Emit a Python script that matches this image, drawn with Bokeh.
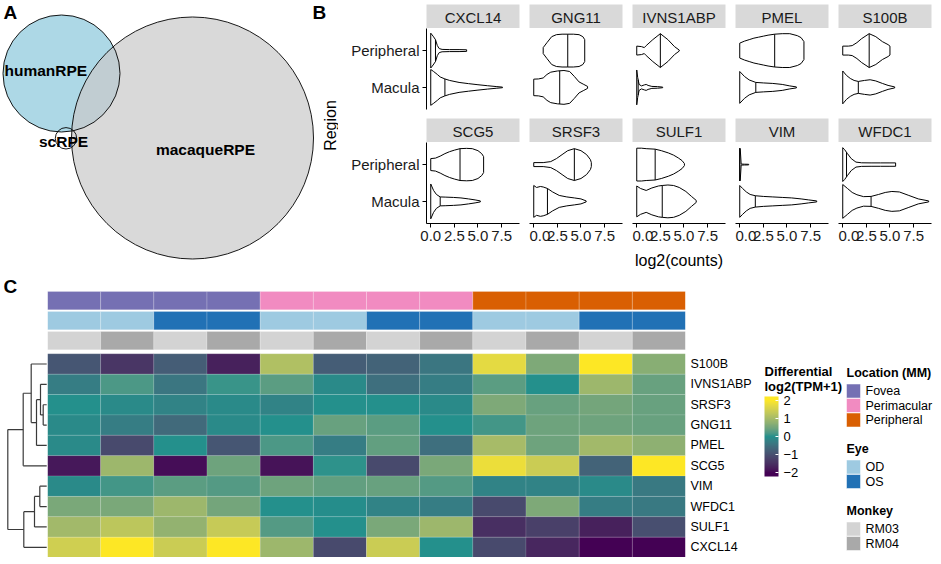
import numpy as np
from math import pi
from bokeh.plotting import figure
from bokeh.layouts import row, column
from bokeh.models import (Range1d, FixedTicker, NumeralTickFormatter, ColumnDataSource,
                          LinearColorMapper, CategoricalColorMapper, ColorBar)
from bokeh.core.properties import value
from bokeh.embed import file_html
from bokeh.resources import INLINE

FONT = "Liberation Sans"

# ======================= DATA =======================
# ---- Panel A: Venn diagram sets ----
venn_sets = ["humanRPE", "macaqueRPE", "scRPE"]

# ---- Panel B: violin outlines (x = log2(counts), w = half-width read in px, med = median) ----
facet_genes = ["CXCL14", "GNG11", "IVNS1ABP", "PMEL", "S100B",
               "SCG5", "SRSF3", "SULF1", "VIM", "WFDC1"]
regions = ["Macula", "Peripheral"]
x_ticks = [0.0, 2.5, 5.0, 7.5]

violin_x = {
    "CXCL14":   {"Peripheral": [0, 0.25, 0.5, 0.7, 0.9, 1.2, 2.0, 3.0, 3.8],
                 "Macula": [0, 0.3, 0.7, 1.0, 1.5, 2.0, 3.0, 4.0, 5.0, 6.0, 7.0, 7.6]},
    "GNG11":    {"Peripheral": [1.0, 1.4, 1.9, 2.4, 3.0, 3.6, 4.2, 4.8, 5.2, 5.4],
                 "Macula": [0, 0.5, 1.0, 1.4, 1.8, 2.5, 3.2, 3.8, 4.3, 4.8, 5.3, 5.7]},
    "IVNS1ABP": {"Peripheral": [0, 0.5, 0.8, 1.0, 1.7, 2.5, 3.3, 4.0, 4.5],
                 "Macula": [0, 0.1, 0.25, 0.5, 0.8, 1.0, 1.2, 1.6, 2.2, 2.75]},
    "PMEL":     {"Peripheral": [0, 0.5, 1.0, 1.5, 2.0, 2.5, 3.0, 3.7, 4.5, 5.3, 6.1, 6.5, 6.8],
                 "Macula": [0, 0.5, 1.0, 1.7, 2.5, 3.5, 4.5, 5.3, 6.0]},
    "S100B":    {"Peripheral": [0, 0.6, 1.0, 1.5, 2.0, 2.8, 3.5, 4.2, 4.8, 5.0],
                 "Macula": [0, 0.4, 0.8, 1.2, 1.65, 2.3, 2.9, 3.5, 4.2, 4.8, 5.5]},
    "SCG5":     {"Peripheral": [0, 0.5, 1.0, 1.5, 2.0, 2.5, 3.1, 3.8, 4.4, 5.0, 5.4, 5.6],
                 "Macula": [0, 0.3, 0.6, 1.0, 1.6, 2.4, 3.2, 4.0, 4.7, 5.25]},
    "SRSF3":    {"Peripheral": [0, 1.0, 1.8, 2.4, 3.0, 3.6, 4.3, 5.0, 5.6, 6.0, 6.1],
                 "Macula": [0, 0.3, 0.7, 1.0, 1.45, 2.0, 2.7, 3.5, 4.3, 5.0, 5.55]},
    "SULF1":    {"Peripheral": [0, 0.5, 1.0, 1.95, 2.6, 3.35, 3.9, 4.4, 4.8, 5.05],
                 "Macula": [0, 0.4, 1.0, 1.6, 2.3, 2.7, 3.3, 3.9, 4.5, 5.2, 5.8, 6.3]},
    "VIM":      {"Peripheral": [0, 0.05, 0.15, 0.5, 0.95],
                 "Macula": [0, 0.3, 0.7, 1.1, 1.65, 2.5, 3.5, 4.5, 5.5, 6.5, 7.3, 8.15]},
    "WFDC1":    {"Peripheral": [0, 0.2, 0.5, 0.9, 1.4, 2.0, 3.0, 4.0, 5.0, 5.6],
                 "Macula": [0, 0.5, 1.0, 1.5, 2.2, 3.0, 3.8, 4.5, 5.2, 6.0, 7.0, 8.0, 9.1]},
}
violin_w = {
    "CXCL14":   {"Peripheral": [17.5, 14.5, 11, 5, 2, 1.2, 1, 1, 0.8],
                 "Macula": [18, 16, 13, 10.5, 8.5, 7, 5, 3.8, 2.7, 1.7, 0.8, 0.3]},
    "GNG11":    {"Peripheral": [3, 8, 14, 16, 16.5, 16.5, 16.5, 16, 14, 11],
                 "Macula": [8.3, 8.5, 9.5, 13, 15.3, 16.5, 17, 16, 11, 5.5, 3, 1]},
    "IVNS1ABP": {"Peripheral": [4.5, 4, 3, 5, 11, 17, 11, 4, 0.5],
                 "Macula": [17.5, 10, 3, 1.5, 2.5, 3, 2, 1, 0.8, 0.3]},
    "PMEL":     {"Peripheral": [7.5, 9.5, 11, 12.5, 13.5, 14.5, 15.5, 16.5, 17, 17, 15, 13, 9],
                 "Macula": [16, 11, 7.5, 5, 4.5, 4, 3, 1.5, 0.5]},
    "S100B":    {"Peripheral": [4.5, 4.5, 5, 8, 12, 17, 14, 9, 6, 4.5],
                 "Macula": [16.5, 12, 9, 7, 6, 7, 7.7, 6.5, 4, 2, 0.5]},
    "SCG5":     {"Peripheral": [6, 6.5, 8.5, 11, 13, 14.5, 16, 16.3, 16, 14, 11, 8],
                 "Macula": [17.5, 11, 7, 4.5, 4.3, 4, 3.5, 2.5, 1.5, 0.5]},
    "SRSF3":    {"Peripheral": [2, 2, 3, 6, 10, 14, 16, 14, 10, 5, 2],
                 "Macula": [16, 14, 15, 14.5, 13, 9.5, 6, 4.5, 3.5, 2.5, 0.5]},
    "SULF1":    {"Peripheral": [16.5, 16.5, 16, 15.5, 14, 11.7, 9.5, 6.7, 4, 1],
                 "Macula": [15.5, 13, 11, 13.5, 15.5, 16, 16.5, 16, 14, 10, 5, 1]},
    "VIM":      {"Peripheral": [16.5, 16, 0.5, 0.4, 0.3],
                 "Macula": [16, 13, 9.5, 7, 5.7, 5, 4.5, 4, 3.5, 2.5, 1.5, 0.5]},
    "WFDC1":    {"Peripheral": [17, 15, 11, 6, 2.5, 1.8, 1.7, 1.7, 1.7, 1.7],
                 "Macula": [17, 13, 9, 6.7, 4.8, 5, 7, 9, 10, 9.5, 6, 2.5, 0.5]},
}
violin_med = {
    "CXCL14": {"Peripheral": 0.5, "Macula": 1.5},
    "GNG11": {"Peripheral": 3.6, "Macula": 2.75},
    "IVNS1ABP": {"Peripheral": 2.5, "Macula": 0.15},
    "PMEL": {"Peripheral": 3.7, "Macula": 1.7},
    "S100B": {"Peripheral": 2.8, "Macula": 1.65},
    "SCG5": {"Peripheral": 3.1, "Macula": 1.0},
    "SRSF3": {"Peripheral": 4.3, "Macula": 1.45},
    "SULF1": {"Peripheral": 1.95, "Macula": 2.7},
    "VIM": {"Peripheral": 0.0, "Macula": 1.65},
    "WFDC1": {"Peripheral": 0.4, "Macula": 3.0},
}

# ---- Panel C: heatmap ----
heat_genes = ["S100B", "IVNS1ABP", "SRSF3", "GNG11", "PMEL",
              "SCG5", "VIM", "WFDC1", "SULF1", "CXCL14"]
heat_values = [
    [-0.9, -1.4, -0.8, -1.7, 1.1, -0.8, -0.7, -0.4, 1.7, 0.6, 2.1, 0.7],
    [-0.3, 0.2, -0.4, 0.1, 0.3, -0.1, -0.5, -0.3, 0.3, 0.0, 0.9, 0.4],
    [0.0, -0.1, -0.2, -0.1, -0.2, 0.0, 0.0, -0.1, 0.6, 0.4, 0.5, 0.4],
    [-0.1, -0.3, -0.6, -0.1, 0.0, 0.4, 0.3, 0.0, 0.15, 0.45, 0.45, 0.4],
    [-0.1, -1.1, 0.0, -0.9, 0.2, -0.3, 0.35, -0.5, 1.0, 0.45, 0.95, 0.75],
    [-1.8, 0.9, -1.9, 0.45, -1.85, 0.05, -1.1, 0.55, 1.8, 1.4, -0.7, 2.1],
    [-0.1, 0.15, 0.3, 0.25, 0.45, 0.35, 0.4, 0.25, -0.2, -0.2, -0.1, -0.35],
    [0.55, 0.55, 0.9, 0.5, 0.0, -0.05, -0.2, -0.3, -1.1, 0.6, -0.3, -0.35],
    [0.95, 1.25, 0.8, 1.35, 0.25, 0.0, 0.55, 0.9, -1.5, -1.25, -1.7, -1.0],
    [1.45, 2.0, 1.4, 2.0, 0.9, -1.1, 1.4, 0.0, -1.1, -1.6, -2.1, -2.1],
]
sample_location = ["Fovea"] * 4 + ["Perimacular"] * 4 + ["Peripheral"] * 4
sample_eye = ["OD", "OD", "OS", "OS"] * 3
sample_monkey = ["RM03", "RM04"] * 6
location_levels = ["Fovea", "Perimacular", "Peripheral"]
eye_levels = ["OD", "OS"]
monkey_levels = ["RM03", "RM04"]
colorbar_ticks = [-2, -1, 0, 1, 2]
colorbar_title = ["Differential", "log2(TPM+1)"]

# row dendrogram: (node, child_a, child_b, merge height)
dendro_merges = [
    ("m1", "SRSF3", "GNG11", 3.5),
    ("m2", "IVNS1ABP", "m1", 6.2),
    ("m3", "m2", "PMEL", 10.2),
    ("m4", "S100B", "m3", 15.5),
    ("m5", "m4", "SCG5", 23.5),
    ("m6", "VIM", "WFDC1", 6.9),
    ("m7", "m6", "SULF1", 12.2),
    ("m8", "m7", "CXCL14", 22.9),
    ("m9", "m5", "m8", 38.9),
]

# ======================= STYLE / LAYOUT =======================
location_colors = ["#7570B3", "#F18BC1", "#D95F02"]
eye_colors = ["#9ECAE1", "#2171B5"]
monkey_colors = ["#D3D3D3", "#A9A9A9"]
venn_layout = {"humanRPE": (61, 73, 58.5), "macaqueRPE": (192, 137.5, 121), "scRPE": (65.5, 137.8, 10.7)}
venn_label_pos = {"humanRPE": (45.3, 70), "macaqueRPE": (205, 149.3), "scRPE": (63, 140.7)}
PX_PER_UNIT = 37.0
TOTAL_W = 933


def base_fig(**kw):
    p = figure(toolbar_location=None, output_backend="svg", **kw)
    p.outline_line_color = None
    p.grid.visible = False
    p.border_fill_color = "white"
    return p


# ---------------- Panel A ----------------
VW, TH = 338, 270
venn = base_fig(width=VW, height=TH, x_range=Range1d(0, VW), y_range=Range1d(TH, 0),
                min_border=0, x_axis_location=None, y_axis_location=None)
hx, hy, hr = venn_layout["humanRPE"]
mx, my, mr = venn_layout["macaqueRPE"]
venn.circle([hx], [hy], radius=hr, fill_color="#ADD8E6", line_color=None)
venn.circle([mx], [my], radius=mr, fill_color="#C9C9C9", fill_alpha=0.7, line_color=None)
for (cx, cy, r) in venn_layout.values():
    venn.circle([cx], [cy], radius=r, fill_color=None, line_color="black", line_width=0.9)
venn.text([venn_label_pos[s][0] for s in venn_sets], [venn_label_pos[s][1] for s in venn_sets],
          text=venn_sets, text_align="center", text_baseline="middle",
          text_font=value(FONT), text_font_style="bold", text_font_size="15.5px", text_color="black")
venn.text([3], [1], text=["A"], text_baseline="top", text_font=value(FONT),
          text_font_style="bold", text_font_size="19px", text_color="black")
venn.text([312], [1], text=["B"], text_baseline="top", text_font=value(FONT),
          text_font_style="bold", text_font_size="19px", text_color="black")
venn.text([330], [125], text=["Region"], angle=pi / 2, text_align="center", text_baseline="middle",
          text_font=value(FONT), text_font_size="16px", text_color="black")

# ---------------- Panel B ----------------
xr = Range1d(-0.45, 9.4)
yr = Range1d(0.4, 2.6)
FW = 93
cols = []
for j in range(5):
    col_items = []
    left = 88 if j == 0 else 0
    right = 10 if j < 4 else 2
    for r in range(2):
        gene = facet_genes[r * 5 + j]
        strip = base_fig(frame_width=FW, frame_height=24,
                         x_range=Range1d(0, 1), y_range=Range1d(0, 1),
                         min_border_left=left, min_border_right=right,
                         min_border_top=4 if r == 0 else 0,
                         min_border_bottom=0, x_axis_location=None, y_axis_location=None,
                         background_fill_color="#D9D9D9")
        strip.text([0.5], [0.45], text=[gene], text_align="center", text_baseline="middle",
                   text_font=value(FONT), text_font_size="15px", text_color="#1a1a1a")
        col_items.append(strip)

        p = base_fig(frame_width=FW, frame_height=81, x_range=xr, y_range=yr,
                     min_border_left=left, min_border_right=right, min_border_top=0,
                     min_border_bottom=9 if r == 0 else 47,
                     x_axis_location="below" if r == 1 else None,
                     y_axis_location="left" if j == 0 else None)
        xs_all, ys_all = [], []
        mx0, my0, my1 = [], [], []
        for k, reg in enumerate(regions):
            yc = k + 1
            xs = np.asarray(violin_x[gene][reg], float)
            hw = np.asarray(violin_w[gene][reg], float) / PX_PER_UNIT
            xs_all.append(list(np.concatenate([xs, xs[::-1]])))
            ys_all.append(list(np.concatenate([yc + hw, (yc - hw)[::-1]])))
            med = violin_med[gene][reg]
            hm = float(np.interp(med, xs, hw))
            mx0.append(med); my0.append(yc - hm); my1.append(yc + hm)
        p.patches(xs_all, ys_all, fill_color="white", line_color="black", line_width=1)
        p.segment(mx0, my0, mx0, my1, line_color="black", line_width=1)
        for ax in p.axis:
            ax.axis_line_color = "black"
            ax.major_tick_line_color = "black"
            ax.major_tick_out = 4
            ax.major_tick_in = 0
            ax.minor_tick_line_color = None
            ax.major_label_text_font = FONT
            ax.major_label_text_font_size = "15px"
            ax.major_label_text_color = "#1a1a1a"
            ax.axis_label_text_font = FONT
            ax.axis_label_text_font_size = "16px"
            ax.axis_label_text_font_style = "normal"
            ax.axis_label_text_color = "black"
        if j == 0:
            p.yaxis.ticker = FixedTicker(ticks=[1, 2])
            p.yaxis.major_label_overrides = {1: regions[0], 2: regions[1]}
            p.yaxis.major_label_standoff = 3
        if r == 1:
            p.xaxis.ticker = FixedTicker(ticks=x_ticks)
            p.xaxis.formatter = NumeralTickFormatter(format="0.0")
            p.xaxis.major_label_standoff = 3
            if j == 2:
                p.xaxis.axis_label = "log2(counts)"
                p.xaxis.axis_label_standoff = 8
        col_items.append(p)
    cols.append(column(*col_items, spacing=0))
grid_row = row(*cols, spacing=0)
top = row(venn, grid_row, spacing=0)


# ---------------- Panel C ----------------
WHITE = np.array([0.95047, 1.0, 1.08883])
MAT = np.array([[0.4124564, 0.3575761, 0.1804375],
                [0.2126729, 0.7151522, 0.0721750],
                [0.0193339, 0.1191920, 0.9503041]])
MAT_INV = np.linalg.inv(MAT)


def hex_to_lab(h):
    rgb = np.array([int(h[i:i + 2], 16) for i in (1, 3, 5)]) / 255.0
    lin = np.where(rgb <= 0.04045, rgb / 12.92, ((rgb + 0.055) / 1.055) ** 2.4)
    xyz = MAT @ lin / WHITE
    d = 6 / 29
    f = np.where(xyz > d ** 3, np.cbrt(xyz), xyz / (3 * d * d) + 4 / 29)
    return np.array([116 * f[1] - 16, 500 * (f[0] - f[1]), 200 * (f[1] - f[2])])


def lab_to_hex(lab):
    L, a, b = lab
    fy = (L + 16) / 116
    f = np.array([fy + a / 500, fy, fy - b / 200])
    d = 6 / 29
    xyz = np.where(f > d, f ** 3, 3 * d * d * (f - 4 / 29)) * WHITE
    lin = np.clip(MAT_INV @ xyz, 0, 1)
    rgb = np.where(lin <= 0.0031308, 12.92 * lin, 1.055 * lin ** (1 / 2.4) - 0.055)
    rgb = np.clip(np.round(rgb * 255), 0, 255).astype(int)
    return "#%02x%02x%02x" % tuple(rgb)


breaks = [-2, 0, 2]
labs = np.array([hex_to_lab(c) for c in ["#440154", "#21908C", "#FDE725"]])
vals = np.clip(np.linspace(-2.2, 2.2, 256), -2, 2)
palette = [lab_to_hex([np.interp(v, breaks, labs[:, k]) for k in range(3)]) for v in vals]
mapper = LinearColorMapper(palette=palette, low=-2.2, high=2.2)

n_rows = len(heat_genes)
n_cols = len(sample_location)
HEAT_PX = 266                        # rows + annotations in px
BOT_TOP = 20                         # empty space above the annotation rows
BH = HEAT_PX + BOT_TOP               # height of the bottom section
ROW_PX = (HEAT_PX - 3 * 18.3 - 2 * 1.7 - 4) / n_rows
ann_h, ann_gap, ann_gap0 = 18.3 / ROW_PX, 1.7 / ROW_PX, 4 / ROW_PX
ann_centers = [n_rows - 0.5 + ann_gap0 + ann_h / 2 + k * (ann_h + ann_gap) for k in range(3)]  # monkey, eye, location
y_top = n_rows - 0.5 + ann_gap0 + 3 * ann_h + 2 * ann_gap
d_top = y_top + BOT_TOP / ROW_PX
shared_y = Range1d(-0.5, d_top)

heat = base_fig(frame_width=638, frame_height=BH, x_range=Range1d(-0.5, n_cols - 0.5),
                y_range=shared_y, min_border_left=0, min_border_right=70,
                min_border_top=0, min_border_bottom=0, x_axis_location=None,
                y_axis_location="right")

hx_, hy_, hv_ = [], [], []
for i, g in enumerate(heat_genes):
    for c in range(n_cols):
        hx_.append(c); hy_.append(n_rows - 1 - i); hv_.append(heat_values[i][c])
heat.rect(x="x", y="y", width=1, height=1, source=ColumnDataSource(dict(x=hx_, y=hy_, v=hv_)),
          fill_color={"field": "v", "transform": mapper}, line_color="white", line_alpha=0.12, line_width=1)

ann_specs = [
    (sample_monkey, monkey_levels, monkey_colors, ann_centers[0]),
    (sample_eye, eye_levels, eye_colors, ann_centers[1]),
    (sample_location, location_levels, location_colors, ann_centers[2]),
]
for cats, levels, colors, yc in ann_specs:
    src = ColumnDataSource(dict(x=list(range(n_cols)), y=[yc] * n_cols, cat=cats))
    cmap = CategoricalColorMapper(factors=levels, palette=colors)
    heat.rect(x="x", y="y", width=1, height=ann_h, source=src,
              fill_color={"field": "cat", "transform": cmap},
              line_color="white", line_alpha=0.2, line_width=1)

ya = heat.yaxis[0]
ya.ticker = FixedTicker(ticks=list(range(n_rows)))
ya.major_label_overrides = {n_rows - 1 - i: g for i, g in enumerate(heat_genes)}
ya.axis_line_color = None
ya.major_tick_line_color = None
ya.major_tick_out = 0
ya.major_tick_in = 0
ya.minor_tick_line_color = None
ya.minor_tick_out = 0
ya.major_label_standoff = 5
ya.major_label_text_font = FONT
ya.major_label_text_font_size = "12.5px"
ya.major_label_text_color = "black"

# dendrogram
node_y = {g: n_rows - 1 - i for i, g in enumerate(heat_genes)}
node_h = {g: 0.0 for g in heat_genes}
dx0, dy0, dx1, dy1 = [], [], [], []
for name, a, b, h in dendro_merges:
    ya_, yb_ = node_y[a], node_y[b]
    dx0 += [node_h[a], h, node_h[b]]
    dy0 += [ya_, ya_, yb_]
    dx1 += [h, h, h]
    dy1 += [ya_, yb_, yb_]
    node_y[name] = (ya_ + yb_) / 2
    node_h[name] = h

DW = 47
dendro = base_fig(frame_width=DW, frame_height=BH, x_range=Range1d(46.2, -0.8),
                  y_range=shared_y, min_border=0,
                  x_axis_location=None, y_axis_location=None)
dendro.segment(dx0, dy0, dx1, dy1, line_color="#3a3a3a", line_width=1.2)
dendro.text([43.2], [d_top - 4 / ROW_PX], text=["C"], text_baseline="top", text_font=value(FONT),
            text_font_style="bold", text_font_size="19px", text_color="black")

# legend panel (colour bar + annotation legends), coordinates in page pixels
LX0 = DW + 638 + 70
LW = TOTAL_W - LX0
Y0 = TH
leg = base_fig(frame_width=LW, frame_height=BH, x_range=Range1d(LX0, LX0 + LW),
               y_range=Range1d(Y0 + BH, Y0), min_border=0,
               x_axis_location=None, y_axis_location=None)
CB_X = 764
leg.text([CB_X] * 2, [370, 385], text=colorbar_title, text_baseline="middle",
         text_font=value(FONT), text_font_style="bold", text_font_size="13px", text_color="black")
cb = ColorBar(color_mapper=mapper, location=(CB_X - LX0, Y0 + BH - 475), width=14, height=80, padding=0,
              ticker=FixedTicker(ticks=colorbar_ticks),
              major_label_overrides={t: (str(t) if t >= 0 else "\u2212" + str(-t)) for t in colorbar_ticks},
              major_label_text_font=FONT, major_label_text_font_size="13px",
              major_label_text_color="black", label_standoff=5,
              major_tick_line_color="white", major_tick_in=3, major_tick_out=0,
              minor_tick_line_color=None, bar_line_color=None, border_line_color=None,
              background_fill_alpha=0)
leg.add_layout(cb)

LG_X = 846
legend_groups = [("Location (MM)", location_levels, location_colors, 371),
                 ("Eye", eye_levels, eye_colors, 447),
                 ("Monkey", monkey_levels, monkey_colors, 509)]
for title, levels, colors, ty in legend_groups:
    leg.text([LG_X], [ty], text=[title], text_baseline="middle", text_font=value(FONT),
             text_font_style="bold", text_font_size="12.5px", text_color="black")
    ys = [ty + 18.5 + 14.5 * k for k in range(len(levels))]
    leg.rect(x=[LG_X + 7] * len(levels), y=ys, width=14, height=14, fill_color=colors,
             line_color="white", line_alpha=0.5, line_width=1)
    leg.text([LG_X + 19] * len(levels), ys, text=levels, text_baseline="middle",
             text_font=value(FONT), text_font_size="12.5px", text_color="black")

bottom = row(dendro, heat, leg, spacing=0)
layout = column(top, bottom, spacing=0)

open("out.html", "w").write(file_html(layout, INLINE))
